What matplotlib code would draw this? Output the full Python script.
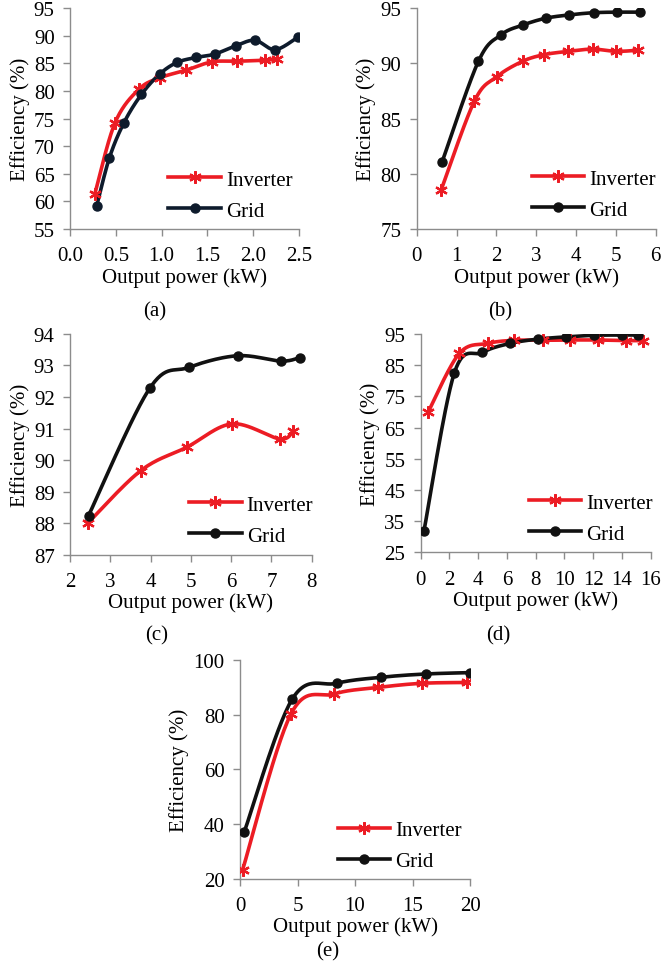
import numpy as np
import matplotlib
matplotlib.use("Agg")
from matplotlib import pyplot as plt

plt.rcParams['font.family'] = ['Liberation Serif', 'DejaVu Serif']
plt.rcParams['font.size'] = 15

RED = '#ec1c24'
BLACK = '#111111'
NAVY = '#0e1b2c'
AXC = '#8c8c8c'
FS = 15

# (a)
a_inv_x = [0.27, 0.49, 0.75, 0.98, 1.27, 1.55, 1.82, 2.13, 2.26]
a_inv_y = [61.3, 74.2, 80.3, 82.4, 83.8, 85.3, 85.4, 85.6, 85.8]
a_grid_x = [0.29, 0.43, 0.59, 0.78, 0.98, 1.17, 1.38, 1.58, 1.81, 2.02, 2.24, 2.49]
a_grid_y = [59.1, 67.9, 74.3, 79.4, 83.1, 85.2, 86.1, 86.7, 88.2, 89.2, 87.5, 89.8]
# (b)
b_inv_x = [0.61, 1.45, 2.01, 2.66, 3.2, 3.81, 4.42, 5.0, 5.56]
b_inv_y = [78.5, 86.6, 88.8, 90.2, 90.8, 91.1, 91.3, 91.1, 91.2]
b_grid_x = [0.64, 1.55, 2.12, 2.68, 3.24, 3.83, 4.44, 5.02, 5.6]
b_grid_y = [81.1, 90.2, 92.6, 93.5, 94.1, 94.4, 94.6, 94.65, 94.65]
# (c)
c_inv_x = [2.44, 3.76, 4.9, 6.03, 7.21, 7.54]
c_inv_y = [88.0, 89.67, 90.41, 91.15, 90.67, 90.93]
c_grid_x = [2.46, 3.98, 4.95, 6.16, 7.24, 7.7]
c_grid_y = [88.24, 92.28, 92.94, 93.31, 93.14, 93.25]
# (d)
d_inv_x = [0.53, 2.69, 4.66, 6.5, 8.49, 10.39, 12.32, 14.29, 15.45]
d_inv_y = [70.1, 88.8, 92.0, 93.0, 93.0, 93.1, 93.1, 92.9, 92.9]
d_grid_x = [0.23, 2.34, 4.29, 6.22, 8.19, 10.12, 12.06, 13.99, 15.15]
d_grid_y = [31.9, 82.5, 89.1, 92.0, 93.4, 94.1, 94.6, 94.7, 94.7]
# (e)
e_inv_x = [0.23, 4.43, 8.17, 12.03, 15.8, 19.7]
e_inv_y = [23.4, 80.2, 87.5, 89.9, 91.4, 91.7]
e_grid_x = [0.38, 4.55, 8.4, 12.26, 16.14, 20.0]
e_grid_y = [37.3, 85.7, 91.4, 93.6, 94.8, 95.3]


def smooth(x, y, n=30):
    # Excel-like smoothed line (Catmull-Rom bezier)
    p = np.column_stack([x, y]).astype(float)
    p = np.vstack([p[0], p, p[-1]])
    t = np.linspace(0, 1, n)[:, None]
    out = []
    for i in range(1, len(p) - 2):
        p0, p1, p2, p3 = p[i - 1], p[i], p[i + 1], p[i + 2]
        c1 = p1 + (p2 - p0) / 6
        c2 = p2 - (p3 - p1) / 6
        seg = ((1 - t) ** 3) * p1 + 3 * ((1 - t) ** 2) * t * c1 + 3 * (1 - t) * t ** 2 * c2 + t ** 3 * p2
        out.append(seg)
    s = np.vstack(out)
    return s[:, 0], s[:, 1]


def panel(rect, ix, iy, gx, gy, xlim, xticks, xfmt, ylim, yticks, leg, gridcol=BLACK):
    ax = fig.add_axes(rect)
    sx, sy = smooth(ix, iy)
    ax.plot(sx, sy, color=RED, lw=2.6, zorder=3)
    ax.plot(ix, iy, ls='none', marker=(6, 2, 0), ms=9, mew=1.6, color=RED, zorder=4)
    sx, sy = smooth(gx, gy)
    ax.plot(sx, sy, color=gridcol, lw=2.6, zorder=3)
    ax.plot(gx, gy, ls='none', marker='o', ms=6.5, color=gridcol, zorder=4)
    # legend proxies
    h1, = ax.plot([], [], color=RED, lw=2.6, marker=(6, 2, 0), ms=9, mew=1.6)
    h2, = ax.plot([], [], color=gridcol, lw=2.6, marker='o', ms=6.5)
    ax.legend([h1, h2], ['Inverter', 'Grid'], loc='center left', bbox_to_anchor=leg,
              frameon=False, handlelength=2.5, handletextpad=0.25, labelspacing=0.55,
              borderpad=0, borderaxespad=0, fontsize=FS, markerscale=1)
    ax.set_xlim(*xlim)
    ax.set_ylim(*ylim)
    ax.set_xticks(xticks)
    ax.set_xticklabels([xfmt.format(v) for v in xticks])
    ax.set_yticks(yticks)
    for s in ['top', 'right']:
        ax.spines[s].set_visible(False)
    for s in ['left', 'bottom']:
        ax.spines[s].set_color(AXC)
        ax.spines[s].set_linewidth(1.0)
    ax.tick_params(direction='out', length=5, width=1.0, color=AXC, labelsize=FS)
    ax.tick_params(axis='x', pad=7.5)
    ax.tick_params(axis='y', pad=6)
    ax.set_xlabel('Output power (kW)', fontsize=FS, labelpad=1)
    ax.set_ylabel('Efficiency (%)', fontsize=FS, labelpad=3)
    return ax


fig = plt.figure(figsize=(6.63, 9.78), dpi=100)

panel([0.1056, 0.7648, 0.3454, 0.2257], a_inv_x, a_inv_y, a_grid_x, a_grid_y,
      (0, 2.5), [0.0, 0.5, 1.0, 1.5, 2.0, 2.5], '{:.1f}', (55, 95), range(55, 96, 5),
      (0.43, 0.152), gridcol=NAVY)
panel([0.6285, 0.7648, 0.3605, 0.2257], b_inv_x, b_inv_y, b_grid_x, b_grid_y,
      (0, 6), range(0, 7), '{:d}', (75, 95), range(75, 96, 5), (0.481, 0.157))
panel([0.1056, 0.4318, 0.3646, 0.2257], c_inv_x, c_inv_y, c_grid_x, c_grid_y,
      (2, 8), range(2, 9), '{:d}', (87, 94), range(87, 95), (0.494, 0.156))
panel([0.6345, 0.4342, 0.3469, 0.2232], d_inv_x, d_inv_y, d_grid_x, d_grid_y,
      (0, 16), range(0, 17, 2), '{:d}', (25, 95), range(25, 96, 10), (0.471, 0.156))
panel([0.3620, 0.1002, 0.3469, 0.2242], e_inv_x, e_inv_y, e_grid_x, e_grid_y,
      (0, 20), range(0, 21, 5), '{:d}', (20, 100), range(20, 101, 20), (0.425, 0.152))

for lab, x, y in [('(a)', 155, 312), ('(b)', 500, 312), ('(c)', 157, 636),
                  ('(d)', 498, 636), ('(e)', 328, 952)]:
    fig.text(x / 663, 1 - y / 978, lab, ha='center', va='center', fontsize=FS)

fig.savefig('out.png', dpi=100)
